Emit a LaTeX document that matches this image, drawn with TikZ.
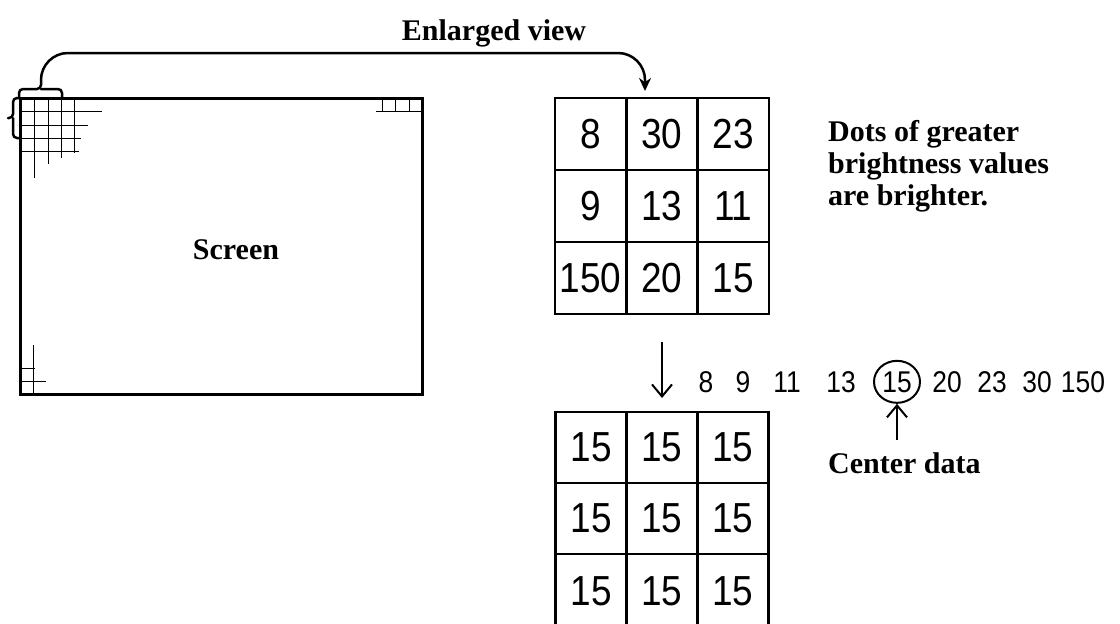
\documentclass[tikz,border=0pt]{standalone}
\usepackage{fontspec}
\setmainfont{Liberation Serif}
\newfontfamily\digitfont[FakeStretch=0.88]{Liberation Sans}
\usetikzlibrary{arrows.meta,shapes.geometric}
\begin{document}
\begin{tikzpicture}[x=1pt,y=-1pt,
  lbl/.style={font=\fontsize{30}{32}\selectfont\bfseries, inner sep=0pt},
  cell/.style={draw, line width=2.7pt, minimum width=71.3pt, minimum height=72pt,
    inner sep=0pt, outer sep=0pt, font=\digitfont\fontsize{42}{42}\selectfont},
  cellb/.style={cell, minimum height=71pt},
  num/.style={font=\digitfont\fontsize{30}{30}\selectfont, inner sep=0pt},
  thin/.style={line width=1pt},
  brace/.style={line width=2.5pt, line cap=round, line join=round, rounded corners=4pt},
  arr/.style={line width=2pt, -{Straight Barb[length=12pt,width=20pt,line width=2pt]}}]
\clip (0,0) rectangle (1120,624);
\fill[white] (0,0) rectangle (1120,624);

% screen
\node[draw, line width=3pt, minimum width=402pt, minimum height=296pt,
  anchor=north west, inner sep=0pt, outer sep=0pt] (screen) at (20,98) {};
\node[lbl] (screenlbl) at (236,250) {Screen};

% top-left fine grid
\foreach \x/\yb in {34/178,48/164,61/158,74/153}
  \draw[thin] (\x,98) -- (\x,\yb);
\foreach \y/\xe in {111/102,125/88,138/81,151/79}
  \draw[thin] (20,\y) -- (\xe,\y);
% top-right fine grid
\foreach \x in {382,395,409}
  \draw[thin] (\x,98) -- (\x,111);
\draw[thin] (376,111) -- (422,111);
% bottom-left fine grid
\draw[thin] (33,345) -- (33,394);
\draw[thin] (20,368) -- (35,368);
\draw[thin] (20,381) -- (46,381);

% braces
\coordinate (bracetip) at (41,84);
\draw[brace] (19,98) |- (41,89) -- (bracetip);
\draw[brace] (62,98) |- (41,89);
\draw[brace] (20,98) -| (13,118) -- (8,118);
\draw[brace] (20,138) -| (13,118);

% enlarged grid
\node[cell] (a11) at (590.7,134) {8};
\node[cell] (a12) at (662,134) {30};
\node[cell] (a13) at (733.3,134) {23};
\node[cell] (a21) at (590.7,206) {9};
\node[cell] (a22) at (662,206) {13};
\node[cell] (a23) at (733.3,206) {11};
\node[cell] (a31) at (590.7,278) {150};
\node[cell] (a32) at (662,278) {20};
\node[cell] (a33) at (733.3,278) {15};

\node[lbl, anchor=base] (ev) at (494,40) {Enlarged view};
\coordinate (gtop) at (645,91);
\draw[line width=2.5pt, rounded corners=27pt, -{Stealth[length=13pt,width=12pt]}]
  (bracetip) |- (gtop |- 0,53) -- (gtop);

\node[lbl, anchor=base west, align=left] (dots) at (828,205)
  {Dots of greater\\brightness values\\are brighter.};

% result grid
\node[cellb] (b11) at (591.3,447.5) {15};
\node[cellb] (b12) at (662,447.5) {15};
\node[cellb] (b13) at (732.7,447.5) {15};
\node[cellb] (b21) at (591.3,518.5) {15};
\node[cellb] (b22) at (662,518.5) {15};
\node[cellb] (b23) at (732.7,518.5) {15};
\node[cell, minimum height=74pt] (b31) at (591.3,591) {15};
\node[cell, minimum height=74pt] (b32) at (662,591) {15};
\node[cell, minimum height=74pt] (b33) at (732.7,591) {15};

\draw[arr] ([yshift=-28pt]a32.south) -- ([yshift=14pt]b12.north);

% sorted row
\node[num, anchor=base] (n8) at (706,392) {8};
\node[num, anchor=base] (n9) at (743,392) {9};
\node[num, anchor=base] (n11) at (787,392) {11};
\node[num, anchor=base] (n13) at (841,392) {13};
\node[num, anchor=base] (n15) at (897,392) {15};
\node[num, anchor=base] (n20) at (947,392) {20};
\node[num, anchor=base] (n23) at (992,392) {23};
\node[num, anchor=base] (n30) at (1037,392) {30};
\node[num, anchor=base] (n150) at (1083,392) {150};
\node[draw, ellipse, line width=2pt, minimum width=46pt, minimum height=42pt,
  inner sep=0pt] (circ) at (n15.center) {};

\node[lbl, anchor=base west] (cd) at (828,473) {Center data};
\coordinate (cdtop) at (897,440);
\draw[arr] (cdtop) -- (circ.south);
\end{tikzpicture}
\end{document}
